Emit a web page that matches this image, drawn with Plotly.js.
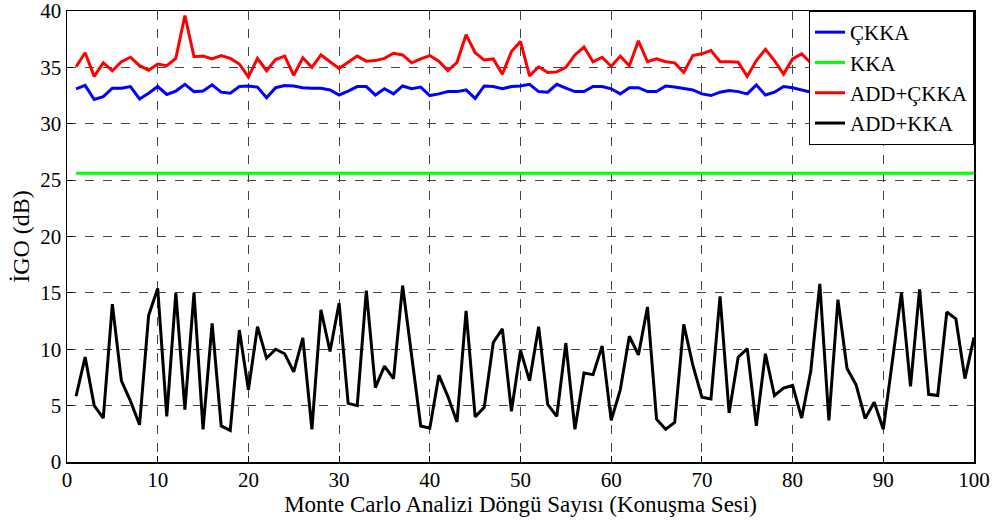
<!DOCTYPE html>
<html><head><meta charset="utf-8">
<script src="https://cdn.plot.ly/plotly-3.0.1.min.js"></script>
<style>html,body{margin:0;padding:0;background:#fff}</style>
</head><body>
<div id="chart" style="width:1000px;height:520px"></div>
<script>
const cycles = Array.from({length:100},(_,i)=>i+1);
const ckka = [33.1,33.4,32.15,32.4,33.15,33.15,33.3,32.2,32.7,33.3,32.6,32.9,33.5,32.85,32.9,33.45,32.8,32.7,33.3,33.35,33.25,32.3,33.2,33.4,33.35,33.2,33.15,33.15,33.0,32.55,32.9,33.3,33.3,32.55,33.1,32.65,33.35,33.1,33.25,32.5,32.65,32.85,32.85,33.0,32.25,33.35,33.3,33.1,33.3,33.35,33.5,32.85,32.8,33.5,33.15,32.85,32.85,33.3,33.3,33.1,32.65,33.2,33.2,32.85,32.85,33.35,33.25,33.15,33.0,32.65,32.5,32.8,32.95,32.85,32.65,33.45,32.55,32.8,33.3,33.2,33.0,32.8,33.3,32.9,33.1,32.7,33.2,33.0,32.6,33.3,33.1,32.9,33.2,32.8,33.0,33.3,32.7,33.1,32.9,33.2];
const kka = cycles.map(()=>25.6);
const addCkka = [35.05,36.3,34.2,35.4,34.7,35.5,35.9,35.15,34.75,35.3,35.15,35.8,39.6,35.95,36.0,35.75,36.05,35.8,35.3,34.15,35.8,34.7,35.7,36.0,34.3,35.85,35.0,36.1,35.5,34.9,35.45,36.0,35.55,35.6,35.8,36.25,36.1,35.4,35.75,36.05,35.55,34.7,35.45,37.9,36.3,35.65,35.75,34.4,36.4,37.3,34.25,35.05,34.55,34.6,35.0,36.1,36.8,35.5,35.9,35.1,36.0,35.15,37.35,35.5,35.75,35.5,35.4,34.55,36.05,36.2,36.5,35.5,35.5,35.45,34.2,35.6,36.6,35.6,34.4,35.75,36.2,35.4,36.0,35.1,35.8,36.3,35.2,35.9,34.8,35.6,36.1,35.3,35.7,36.4,35.0,35.6,35.9,35.2,36.0,35.5];
const addKka = [5.83,9.3,5.0,3.9,14.0,7.2,5.4,3.3,13.0,15.4,4.05,15.0,4.65,15.0,2.9,12.3,3.2,2.8,11.7,6.4,12.0,9.2,10.0,9.6,8.0,11.0,2.9,13.5,9.8,14.1,5.2,5.0,15.2,6.6,8.5,7.4,15.65,9.5,3.2,3.0,7.7,5.8,3.55,13.4,4.0,4.85,10.6,11.8,4.5,9.9,7.2,12.0,5.1,4.05,10.55,2.9,7.9,7.75,10.3,3.7,6.4,11.15,9.5,13.75,3.8,2.9,3.5,12.2,8.6,5.75,5.6,14.7,4.35,9.3,10.05,3.2,9.6,5.9,6.55,6.8,3.9,8.05,15.8,3.7,14.4,8.3,6.85,3.85,5.3,2.9,9.0,15.0,6.7,15.3,6.0,5.9,13.3,12.7,7.4,11.05];
const names = ['ÇKKA','KKA','ADD+ÇKKA','ADD+KKA'];
const colors = ['#0000ff','#00ff00','#ff0000','#000000'];
const series = [ckka,kka,addCkka,addKka];
const xTicks = [0,10,20,30,40,50,60,70,80,90,100];
const yTicks = [0,5,10,15,20,25,30,35,40];

const font = 'Liberation Serif, Times New Roman, serif';
const traces = series.map((s,k)=>({
  x: cycles, y: s, type:'scatter', mode:'lines', name: names[k],
  line:{color:colors[k], width:3}
}));
const axisCommon = {
  showline:true, mirror:true, linecolor:'#000', linewidth:1.5,
  showgrid:true, gridcolor:'#444', griddash:'dash', gridwidth:1,
  zeroline:false, ticks:'inside', ticklen:6, tickcolor:'#000',
  ticklabeloverflow:'allow',
  tickfont:{family:font, size:21, color:'#000'}
};
const layout = {
  width:1000, height:520,
  margin:{l:67, r:26, t:11, b:58},
  paper_bgcolor:'#fff', plot_bgcolor:'#fff',
  font:{family:font, color:'#000'},
  showlegend:true,
  legend:{x:1, xanchor:'right', y:1, yanchor:'top', bgcolor:'#fff',
          bordercolor:'#000', borderwidth:1, font:{family:font, size:21, color:'#000'},
          itemwidth:30, tracegroupgap:0},
  xaxis: Object.assign({}, axisCommon, {range:[0,100], tickvals:xTicks, ticktext:xTicks.map(String),
    ticklabelstandoff:-2,
    title:{text:'Monte Carlo Analizi Döngü Sayısı (Konuşma Sesi)', font:{family:font, size:23, color:'#000'}, standoff:0}}),
  yaxis: Object.assign({}, axisCommon, {range:[0,40], tickvals:yTicks, ticktext:yTicks.map(String),
    title:{text:'İGO (dB)', font:{family:font, size:24, color:'#000'}, standoff:4}})
};
Plotly.newPlot('chart', traces, layout, {displayModeBar:false, staticPlot:true});
</script>
</body></html>
